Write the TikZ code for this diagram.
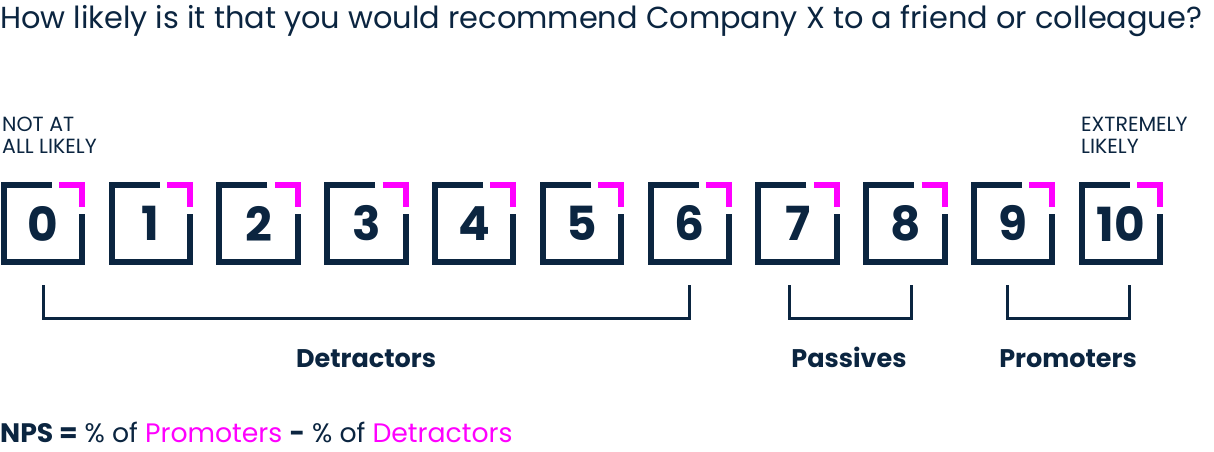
\documentclass[tikz,border=0pt]{standalone}
\usepackage{fontspec}
\setmainfont{Poppins}
\definecolor{navy}{HTML}{0B2540}
\definecolor{mag}{HTML}{FF00FF}
\begin{document}
\begin{tikzpicture}[x=1pt,y=-1pt,
  box/.style={minimum width=78pt,minimum height=77pt,inner sep=0pt,font=\fontsize{47}{47}\selectfont\bfseries,text=navy},
  frame/.style={draw=navy,line width=6pt,line cap=butt,line join=miter},
  corner/.style={draw=mag,line width=6pt,line cap=butt,line join=miter},
  brace/.style={draw=navy,line width=3pt,line join=miter},
  grp/.style={font=\fontsize{25.5}{25.5}\selectfont\bfseries,text=navy,inner sep=0pt,anchor=base},
  endlab/.style={font=\fontsize{20.5}{21.7}\selectfont,text=navy,inner sep=0pt,align=left,anchor=base west},
  title/.style={font=\fontsize{30.4}{30.4}\selectfont,text=navy,inner sep=0pt,anchor=base west},
]
\useasboundingbox (0,0) rectangle (1214,451);
\node[title] (q) at (0,28) {How likely is it that you would recommend Company X to a friend or colleague?};
\node[endlab] (lo) at (2,153) {NOT AT\\ALL LIKELY};
\node[endlab] (hi) at (1081,153) {EXTREMELY\\LIKELY};
\foreach \i in {0,...,10}{
  \node[box] (b\i) at ({43+\i*107.8},223.5) {\i};
  \draw[frame] ([xshift=48pt]b\i.north west) -- (b\i.north west) -- (b\i.south west)
     -- (b\i.south east) -- ([yshift=-29pt]b\i.north east);
  \draw[corner] ([xshift=-23pt]b\i.north east) -- (b\i.north east) -- ([yshift=-22pt]b\i.north east);
}
\draw[brace] ([yshift=-23pt]b0.south) -- ++(0,33) -| ([yshift=-23pt]b6.south);
\draw[brace] ([xshift=-8pt,yshift=-23pt]b7.south) -- ++(0,33) -| ([xshift=6pt,yshift=-23pt]b8.south);
\draw[brace] ([xshift=-6pt,yshift=-23pt]b9.south) -- ++(0,33) -| ([xshift=8pt,yshift=-23pt]b10.south);
\node[grp] (det) at (366,367) {Detractors};
\node[grp] (pas) at (849,367) {Passives};
\node[grp] (pro) at (1068,367) {Promoters};
\node[font=\fontsize{26.7}{26.7}\selectfont,text=navy,inner sep=0pt,anchor=base west] (nps) at (0,442)
  {\textbf{NPS =} \% of \textcolor{mag}{Promoters} \textbf{-} \% of \textcolor{mag}{Detractors}};
\end{tikzpicture}
\end{document}
